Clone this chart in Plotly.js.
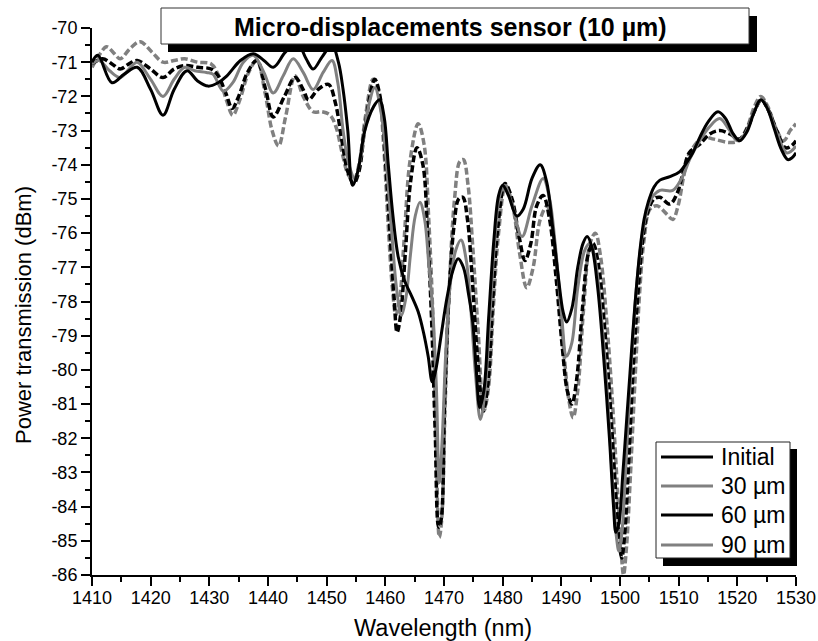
<!DOCTYPE html>
<html>
<head>
<meta charset="utf-8">
<script src="https://cdn.plot.ly/plotly-3.0.1.min.js"></script>
<style>html,body{margin:0;padding:0;background:#fff;}#chart{width:818px;height:641px;}</style>
</head>
<body>
<div id="chart"></div>
<script>
// ---- data ----
const seriesNames = ['Initial', '30 µm', '60 µm', '90 µm'];

const wlInitial = [1410,1411,1413.4,1415.5,1417.7,1420,1422.1,1424,1426.2,1428,1429.8,1431.5,1433,1435.3,1437.5,1439.3,1440.9,1443,1445,1446.5,1447.7,1449.2,1450.9,1452,1452.8,1453.6,1454.4,1455.3,1456.5,1458,1459,1459.8,1460.5,1461.3,1462.2,1463.3,1464.5,1465.6,1466.5,1467.3,1468,1468.6,1469.5,1470.5,1471.5,1472.4,1473.3,1474.2,1474.9,1475.5,1476.1,1476.8,1477.6,1478.5,1479.3,1480,1481,1482.4,1483.5,1485,1486.4,1487.5,1488.5,1489.5,1490.3,1490.9,1491.8,1492.8,1493.7,1494.4,1495.2,1496.2,1497.2,1498.2,1498.9,1499.3,1499.8,1500.5,1501.2,1501.7,1502.5,1503.4,1504.1,1504.8,1505.8,1506.8,1508.5,1510.2,1511.5,1512.4,1513.6,1515,1516.7,1518,1519.3,1520.4,1521.6,1522.8,1524,1525.1,1526.3,1527.5,1528.6,1529.3,1530];
const pInitial = [-71.0,-70.8,-71.6,-71.35,-71.15,-71.8,-72.55,-71.8,-71.25,-71.55,-71.7,-71.6,-71.4,-70.95,-70.75,-70.95,-71.15,-70.7,-70.45,-70.9,-71.2,-70.85,-70.5,-71.0,-71.8,-73.0,-74.6,-74.2,-73.0,-72.3,-72.1,-72.6,-74.0,-75.5,-76.7,-77.4,-77.85,-78.3,-78.9,-79.6,-80.35,-80.0,-79.0,-77.9,-77.1,-76.75,-77.0,-77.8,-78.6,-80.0,-81.1,-80.6,-78.5,-76.2,-74.9,-74.6,-74.9,-75.5,-75.3,-74.4,-74.0,-74.5,-75.8,-77.3,-78.3,-78.6,-78.2,-77.0,-76.3,-76.1,-76.4,-77.6,-79.6,-82.0,-84.0,-84.75,-84.5,-83.0,-81.3,-80.1,-78.2,-76.5,-75.6,-75.1,-74.65,-74.45,-74.35,-74.2,-73.9,-73.65,-73.2,-72.75,-72.45,-72.65,-73.1,-73.3,-73.05,-72.5,-72.1,-72.35,-72.95,-73.55,-73.85,-73.8,-73.65];

const wl30 = [1410,1411.2,1413,1414.8,1416.3,1417.7,1420,1422.1,1424,1425.8,1427.5,1429.5,1430.6,1432.4,1434,1435.8,1437.5,1439.3,1440.9,1442.6,1444.3,1446,1447.7,1449.4,1450.9,1451.9,1452.8,1453.8,1454.8,1455.8,1457,1458.2,1459.3,1460.2,1461.1,1461.9,1462.7,1463.5,1464.3,1465.1,1465.9,1466.7,1467.4,1468.1,1468.7,1469.2,1469.7,1470.3,1471,1472,1472.9,1473.8,1474.6,1475.4,1476.2,1477,1477.8,1478.6,1479.5,1480.3,1481.5,1483.3,1485,1486.9,1488,1489,1490,1490.9,1491.8,1492.8,1494,1494.9,1495.8,1496.8,1497.8,1498.7,1499.4,1499.8,1500.3,1501,1501.8,1502.7,1503.6,1504.5,1505.5,1506.8,1509,1510.5,1512,1513.6,1515.2,1517,1518.5,1520,1521.3,1522.7,1524.2,1525.4,1526.8,1528.4,1529.2,1530];
const p30 = [-71.05,-70.95,-71.25,-71.45,-71.2,-71.0,-71.5,-72.0,-71.5,-71.15,-71.25,-71.3,-71.35,-71.85,-71.6,-71.0,-70.8,-71.3,-71.9,-71.4,-70.9,-71.3,-71.8,-71.3,-70.95,-71.6,-73.0,-74.0,-74.4,-73.8,-72.4,-71.75,-72.5,-74.0,-76.0,-77.6,-78.4,-77.9,-76.6,-75.5,-75.1,-75.6,-76.9,-78.3,-80.5,-83.3,-82.0,-79.5,-77.6,-76.5,-76.2,-76.8,-78.3,-80.2,-81.45,-80.6,-78.5,-76.3,-74.9,-74.6,-75.1,-76.1,-75.2,-74.4,-75.0,-76.4,-78.3,-79.6,-79.2,-77.6,-76.5,-76.3,-76.8,-78.4,-80.6,-83.2,-84.9,-85.3,-84.8,-82.8,-80.2,-77.8,-76.3,-75.4,-74.95,-74.75,-74.75,-74.4,-73.8,-73.3,-72.9,-72.65,-72.95,-73.3,-73.1,-72.5,-72.1,-72.45,-73.1,-73.65,-73.6,-73.45];

const wl60 = [1410,1411.8,1413.4,1414.8,1416.3,1417.7,1420,1422.1,1424,1425.8,1428,1430.3,1431.5,1432.8,1433.9,1435,1436.5,1438.1,1439.6,1440.9,1442.8,1444.6,1446,1446.9,1448.5,1450.3,1451.5,1452.6,1453.6,1454.6,1455.5,1456.6,1458.2,1459.2,1460,1460.8,1461.5,1462,1462.6,1463.4,1464.3,1465.4,1466.4,1467.2,1467.9,1468.5,1469.1,1469.5,1470.1,1470.8,1471.7,1472.5,1473.2,1474,1474.8,1475.7,1476.7,1477.5,1478.3,1479.2,1480.4,1481.6,1482.8,1483.8,1484.8,1485.8,1486.9,1488,1489.1,1490.2,1491,1491.8,1492.6,1493.6,1494.6,1495.4,1496.3,1497.3,1498.3,1499.2,1499.8,1500.3,1500.8,1501.5,1502.2,1503,1503.8,1504.7,1505.8,1506.8,1508.5,1509.7,1510.8,1511.8,1513.6,1515.3,1517,1518.7,1520.4,1521.8,1523,1524.1,1525.3,1526.7,1528.2,1529.2,1530];
const p60 = [-71.05,-70.9,-71.05,-71.2,-71.05,-70.95,-71.2,-71.45,-71.2,-71.1,-71.15,-71.2,-71.4,-71.9,-72.35,-72.0,-71.3,-70.95,-71.8,-72.6,-72.0,-71.45,-71.8,-72.1,-71.8,-71.65,-72.2,-73.3,-74.2,-74.55,-74.2,-72.8,-71.5,-72.1,-73.8,-76.0,-77.9,-78.9,-78.4,-76.6,-74.5,-73.5,-74.0,-76.0,-78.6,-81.8,-84.6,-84.4,-81.0,-78.0,-75.8,-75.0,-74.95,-75.6,-77.3,-79.6,-81.2,-80.4,-78.0,-75.8,-74.55,-75.0,-76.1,-76.8,-76.3,-75.2,-74.9,-75.6,-77.3,-79.4,-80.6,-81.0,-80.3,-78.2,-76.6,-76.3,-76.9,-78.6,-80.9,-83.4,-84.9,-85.5,-84.8,-82.6,-80.1,-77.9,-76.3,-75.4,-75.0,-74.95,-75.15,-74.85,-74.2,-73.65,-73.4,-73.1,-73.0,-73.1,-73.25,-72.9,-72.4,-72.1,-72.4,-73.0,-73.5,-73.45,-73.3];

const wl90 = [1410,1411.2,1412.5,1413.8,1414.8,1416.5,1418.2,1420.2,1422.1,1424,1425.8,1428,1430.3,1431.6,1432.9,1434,1435.2,1436.7,1438.1,1439.5,1440.7,1441.8,1443,1444.6,1446,1447.7,1449.2,1450.6,1451.6,1452.7,1453.7,1454.6,1455.5,1456.6,1457.9,1458.9,1459.7,1460.5,1461.2,1461.8,1462.4,1463.2,1464.2,1465.6,1466.6,1467.4,1468.1,1468.6,1469.2,1469.6,1470.2,1470.9,1471.8,1472.7,1473.3,1474.1,1474.9,1475.8,1476.8,1477.6,1478.4,1479.3,1480.5,1481.7,1482.9,1484.1,1485.2,1486.4,1487.6,1488.6,1489.6,1490.6,1491.3,1492,1492.8,1493.8,1494.9,1495.8,1496.7,1497.7,1498.7,1499.6,1500.2,1500.6,1501.1,1501.8,1502.5,1503.4,1504.1,1505.1,1506.3,1508,1509,1509.9,1510.9,1511.8,1514.1,1516,1518.7,1520.2,1521.7,1522.9,1524,1525.2,1526.5,1527.9,1529,1529.5,1530];
const p90 = [-71.15,-70.8,-70.55,-70.75,-70.9,-70.6,-70.4,-70.7,-71.0,-70.95,-70.9,-71.0,-71.05,-71.4,-72.1,-72.55,-72.1,-71.3,-70.95,-71.9,-73.0,-73.45,-72.6,-71.4,-72.0,-72.45,-72.45,-72.55,-72.9,-73.7,-74.3,-74.45,-74.0,-72.6,-71.5,-71.9,-73.4,-75.8,-77.6,-78.4,-78.0,-76.2,-73.9,-72.8,-73.4,-75.6,-78.4,-81.5,-84.9,-84.4,-81.0,-77.6,-75.0,-73.9,-73.85,-74.6,-76.4,-78.8,-81.2,-80.5,-78.2,-76.0,-74.6,-75.2,-76.6,-77.6,-77.0,-75.6,-75.2,-76.0,-77.8,-79.8,-80.9,-81.4,-80.6,-78.2,-76.3,-76.0,-76.7,-78.5,-80.9,-83.6,-85.3,-86.0,-85.2,-83.0,-80.5,-77.6,-76.2,-75.3,-75.2,-75.45,-75.6,-75.2,-74.3,-73.7,-73.2,-73.25,-73.35,-73.3,-72.9,-72.3,-72.0,-72.3,-72.9,-73.3,-73.0,-72.9,-72.8];

const xTickVals = [1410,1420,1430,1440,1450,1460,1470,1480,1490,1500,1510,1520,1530];
const xTickText = ['1410','1420','1430','1440','1450','1460','1470','1480','1490','1500','1510','1520','1530'];
const yTickVals = [-86,-85,-84,-83,-82,-81,-80,-79,-78,-77,-76,-75,-74,-73,-72,-71,-70];
const yTickText = ['-86','-85','-84','-83','-82','-81','-80','-79','-78','-77','-76','-75','-74','-73','-72','-71','-70'];

const titleText = 'Micro-displacements sensor (10 µm)';
const xTitle = 'Wavelength (nm)';
const yTitle = 'Power transmission (dBm)';

// ---- styles ----
const BLACK = '#000000', GRAY = '#808080';
const FONT = 'Liberation Sans, Arial, Helvetica, sans-serif';

const traces = [
  {x: wl90, y: p90, name: seriesNames[3], mode:'lines', line:{color:GRAY, width:3.5, dash:'7px,3px', shape:'spline', smoothing:1}},
  {x: wl60, y: p60, name: seriesNames[2], mode:'lines', line:{color:BLACK, width:3.5, dash:'7px,3px', shape:'spline', smoothing:1}},
  {x: wl30, y: p30, name: seriesNames[1], mode:'lines', line:{color:GRAY, width:3, shape:'spline', smoothing:1}},
  {x: wlInitial, y: pInitial, name: seriesNames[0], mode:'lines', line:{color:BLACK, width:3, shape:'spline', smoothing:1}}
];

// plot area in pixels: x 92..796, y 28..575
const L = 92, R = 796, T = 28, B = 575;
const px = v => (v - L) / (R - L);
const py = v => (B - v) / (B - T);

const legendColors = [BLACK, GRAY, BLACK, GRAY];
const legendRows = [457, 486, 515, 545];

const shapes = [
  // title box shadow + box
  {type:'rect', xref:'paper', yref:'paper', layer:'above', x0:px(168), x1:px(757), y0:py(52), y1:py(16), fillcolor:BLACK, line:{width:0}},
  {type:'rect', xref:'paper', yref:'paper', layer:'above', x0:px(161), x1:px(749), y0:py(44), y1:py(8), fillcolor:'white', line:{color:'#333', width:1}},
  // legend box shadow + box
  {type:'rect', xref:'paper', yref:'paper', layer:'above', x0:px(663), x1:px(797), y0:py(566), y1:py(449), fillcolor:BLACK, line:{width:0}},
  {type:'rect', xref:'paper', yref:'paper', layer:'above', x0:px(656), x1:px(790), y0:py(558), y1:py(442), fillcolor:'white', line:{color:'#222', width:1}}
];
legendRows.forEach((r, i) => {
  shapes.push({type:'line', xref:'paper', yref:'paper', layer:'above', x0:px(661), x1:px(713), y0:py(r), y1:py(r), line:{color:legendColors[i], width:3}});
});

const annotations = [
  {text:'<b>' + titleText + '</b>', xref:'paper', yref:'paper', x:px(451), y:py(27), xanchor:'center', yanchor:'middle', showarrow:false, font:{family:FONT, size:25, color:BLACK}},
  {text:xTitle, xref:'paper', yref:'paper', x:px(443), y:py(628), xanchor:'center', yanchor:'middle', showarrow:false, font:{family:FONT, size:23.5, color:BLACK}},
  {text:yTitle, xref:'paper', yref:'paper', x:px(23), y:py(315), xanchor:'center', yanchor:'middle', textangle:-90, showarrow:false, font:{family:FONT, size:22, color:BLACK}}
];
legendRows.forEach((r, i) => {
  annotations.push({text:seriesNames[i], xref:'paper', yref:'paper', x:px(719), y:py(r), xanchor:'left', yanchor:'middle', showarrow:false, font:{family:FONT, size:23, color:BLACK}});
});

const layout = {
  width: 818, height: 641,
  margin: {l: L, r: 818 - R, t: T, b: 641 - B, pad: 0},
  paper_bgcolor: 'white', plot_bgcolor: 'white',
  showlegend: false,
  font: {family: FONT, color: BLACK},
  xaxis: {
    range: [1410, 1530], tickmode: 'array', tickvals: xTickVals, ticktext: xTickText,
    ticks: 'outside', ticklen: 9, tickwidth: 2, tickcolor: BLACK, ticklabelstandoff: -4,
    showline: true, linecolor: BLACK, linewidth: 2, mirror: false,
    showgrid: false, zeroline: false, tickfont: {family: FONT, size: 18, color: BLACK},
    minor: {tickmode: 'linear', tick0: 1410, dtick: 5, ticks: 'outside', ticklen: 5, tickwidth: 2, tickcolor: BLACK, showgrid: false}
  },
  yaxis: {
    range: [-86, -70], tickmode: 'array', tickvals: yTickVals, ticktext: yTickText,
    ticks: 'outside', ticklen: 9, tickwidth: 2, tickcolor: BLACK,
    showline: true, linecolor: BLACK, linewidth: 2, mirror: false,
    showgrid: false, zeroline: false, tickfont: {family: FONT, size: 18, color: BLACK},
    minor: {tickmode: 'linear', tick0: -86, dtick: 0.5, ticks: 'outside', ticklen: 5, tickwidth: 2, tickcolor: BLACK, showgrid: false}
  },
  shapes: shapes,
  annotations: annotations
};

Plotly.newPlot('chart', traces, layout, {displayModeBar: false, staticPlot: true});
</script>
</body>
</html>
